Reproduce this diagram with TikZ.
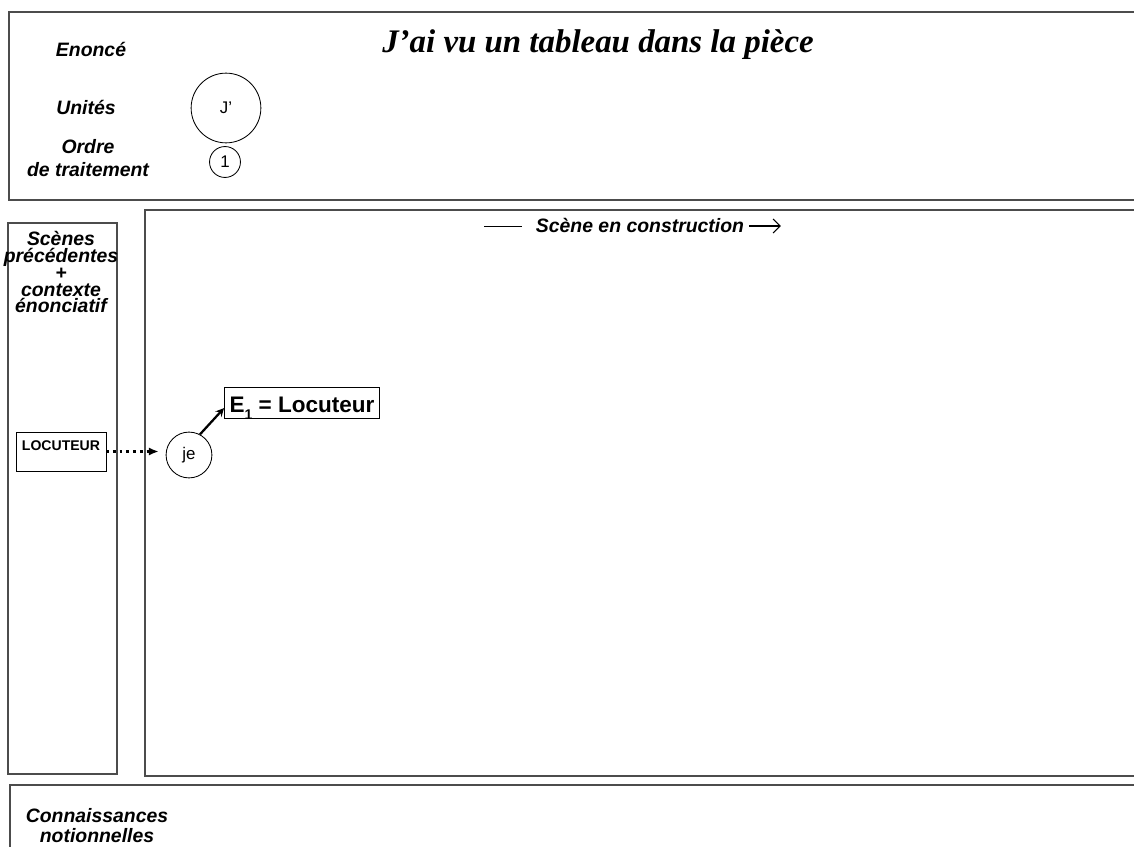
\documentclass[tikz,border=0pt]{standalone}
\usepackage{fontspec}
\setmainfont{Liberation Sans}
\newfontfamily\titlefont{Liberation Serif}
\usetikzlibrary{arrows,arrows.meta}
\setlength\lineskiplimit{-20pt}
\tikzstyle{lbl}[17pt]=[font=\fontsize{13.8pt}{#1}\selectfont\bfseries\itshape, align=center, inner sep=0]
\tikzstyle{frame}=[line width=1.1pt, draw=black!70]
\tikzstyle{unit}=[shape=circle, draw, semithick, inner sep=0, font=\fontsize{12}{14}\selectfont]
\tikzstyle{arrow}=[line width=1.6pt,->,>=stealth]

\begin{document}
\begin{tikzpicture}[x=0.025cm,y=-0.025cm]
\useasboundingbox (0,0) rectangle (1134,847);
\clip (0,0) rectangle (1134,847);
% les quatre cadres
\draw[frame] (9,12) rectangle (1150,200);
\draw[frame] (8,223) rectangle (117,774);
\draw[frame] (145,210) rectangle (1150,776);
\draw[frame] (10,785) rectangle (1150,870);
% en-tete
\node[lbl,anchor=base] (enonce) at (91,57) {Enoncé};
\node[anchor=base,inner sep=0,font=\fontsize{23.4}{28}\titlefont\bfseries\itshape] (phrase) at (598,53) {J’ai vu un tableau dans la pièce};
\node[lbl,anchor=base] (unites) at (86,115) {Unités};
\node[lbl,anchor=base] (ordre) at (88,177) {Ordre\\de traitement};
\node[unit,minimum size=49.6pt] (j) at (226,108) {J’};
\node[unit,minimum size=22pt] (un) at (225,162) {1};
% scenes
\node[lbl=12pt,anchor=base] (precedentes) at (61,313) {Scènes\\précédentes\\+\\contexte\\énonciatif};
\node[lbl,anchor=base] (scene) at (640,233) {Scène en construction};
\draw[thin] ([xshift=-10pt]scene.west) -- ([xshift=-37pt]scene.west);
\draw[thick,-{Straight Barb[length=5pt,width=10pt]}] ([xshift=3.5pt]scene.east) -- ([xshift=26pt]scene.east);
\node[draw,thin,minimum width=63.8pt,inner xsep=0,inner ysep=0,text height=12.9pt,text depth=14.9pt,font=\fontsize{10}{12}\selectfont\bfseries] (locuteur) at (61,451.5) {LOCUTEUR};
\node[unit,minimum size=32.6pt] (je) at (189,455) {je};
\node[draw,thin,minimum width=110.5pt,inner xsep=2pt,inner ysep=0,text height=18.4pt,text depth=3.5pt,font=\fontsize{16}{19}\selectfont\bfseries] (e1) at (302,402.5) {E\raisebox{-4.5pt}{\fontsize{10}{12}\selectfont 1} = Locuteur};
\draw[line width=2pt,dash pattern=on 2pt off 2.8pt,-{Latex[length=7pt,width=6pt]},shorten >=5pt] (locuteur.east) -- (locuteur.east -| je.west);
\draw[arrow] (je.62) -- ([yshift=-4pt]e1.west);
% connaissances
\node[lbl=14.2pt,anchor=base] (connaissances) at (97,842) {Connaissances\\notionnelles};
\end{tikzpicture}
\end{document}
